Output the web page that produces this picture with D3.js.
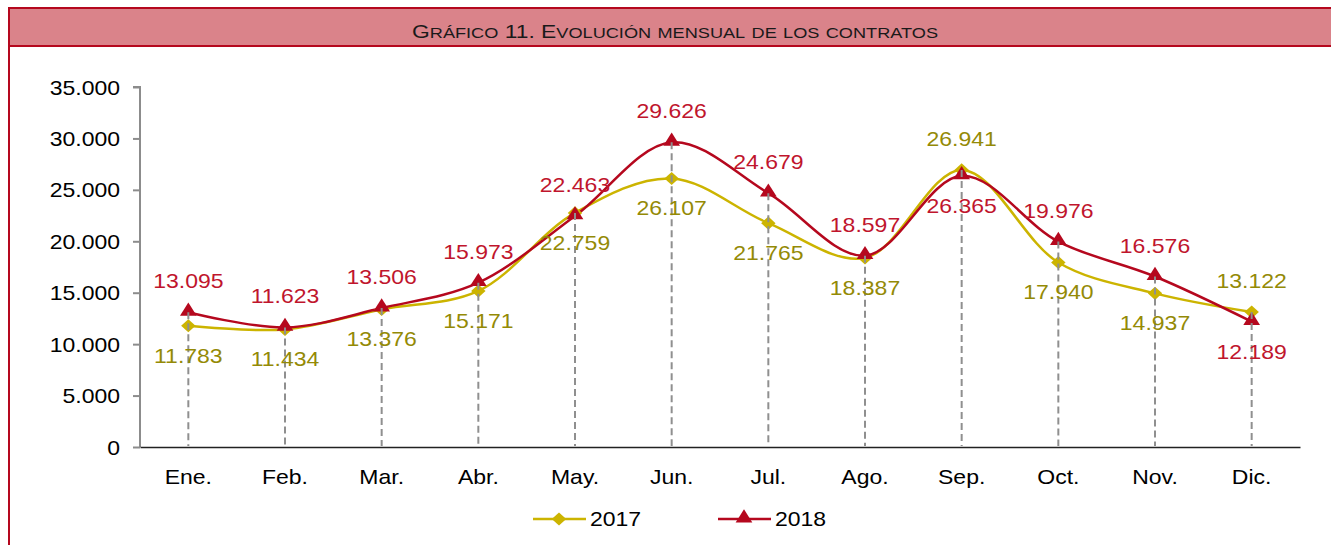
<!DOCTYPE html>
<html lang="es">
  <head>
    <meta charset="utf-8" />
    <title>Evolución mensual de los contratos</title>
    <script src="https://d3js.org/d3.v7.min.js"></script>
    <style>
      body {
        margin: 0;
        background: #fff;
        font-family: "Liberation Sans", Arial, sans-serif;
      }
      svg {
        display: block;
      }
      .tick text {
        font-size: 20px;
        fill: #000;
      }
      .label {
        font-size: 20px;
        text-anchor: middle;
      }
    </style>
  </head>
  <body>
    <svg id="chart" width="1331" height="545"></svg>

    <script>
      // data
      const months = ["Ene.", "Feb.", "Mar.", "Abr.", "May.", "Jun.", "Jul.", "Ago.", "Sep.", "Oct.", "Nov.", "Dic."];
      const values2017 = [11783, 11434, 13376, 15171, 22759, 26107, 21765, 18387, 26941, 17940, 14937, 13122];
      const values2018 = [13095, 11623, 13506, 15973, 22463, 29626, 24679, 18597, 26365, 19976, 16576, 12189];
      const yTicks = [0, 5000, 10000, 15000, 20000, 25000, 30000, 35000];
      const titleText = "Gráfico 11. Evolución mensual de los contratos";

      const svg = d3.select("#chart");
      const W = 1331;
      const SX = 1.15; // the original text is a bit wider than Arial

      // stretch text horizontally around its own anchor point
      function stretch(sel, k = SX) {
        sel.each(function () {
          const t = d3.select(this);
          const tx = +t.attr("x") || 0;
          const ty = +t.attr("y") || 0;
          t.attr("x", 0).attr("y", 0)
            .attr("transform", `translate(${tx},${ty}) scale(${k},1)`);
        });
      }

      // ---- title band + frame
      svg.append("rect")
        .attr("x", 9).attr("y", 8)
        .attr("width", W).attr("height", 38)
        .attr("fill", "#da838a")
        .attr("stroke", "#b5081e")
        .attr("stroke-width", 2);
      svg.append("line")
        .attr("x1", 9).attr("x2", 9)
        .attr("y1", 46).attr("y2", 545)
        .attr("stroke", "#b5081e")
        .attr("stroke-width", 2);

      // manual small caps: capitals, digits and punctuation large, the rest small
      const chunks = [];
      for (const ch of titleText) {
        const big = ch === ch.toUpperCase();
        const last = chunks[chunks.length - 1];
        if (last && last.big === big) last.s += ch;
        else chunks.push({ big, s: ch });
      }
      const title = svg.append("text")
        .attr("x", 675).attr("y", 38)
        .attr("text-anchor", "middle")
        .style("fill", "#1a1a1a");
      title.selectAll("tspan")
        .data(chunks)
        .enter()
        .append("tspan")
        .style("font-size", (d) => (d.big ? "18px" : "14.3px"))
        .text((d) => d.s.toUpperCase());
      stretch(title, 1.27);

      // ---- scales
      const x = d3.scaleBand().domain(months).range([140, 1300]);
      const y = d3.scaleLinear().domain([0, 35000]).range([447, 87]);
      const fmt = (v) => d3.format(",")(v).replace(/,/g, ".");
      const cx = (i) => x(months[i]) + x.bandwidth() / 2;

      // ---- axes
      const yAxis = svg.append("g")
        .attr("transform", "translate(140,0)")
        .call(d3.axisLeft(y).tickValues(yTicks).tickFormat(fmt).tickSize(7).tickPadding(13));
      yAxis.selectAll("line, path").attr("stroke", "#8c8c8c").attr("stroke-width", 2);
      yAxis.select(".domain").attr("d", "M-7,87H0V447");
      yAxis.selectAll(".tick text").attr("y", 7).attr("dy", null).call(stretch);

      const xAxis = svg.append("g")
        .attr("transform", "translate(0,447)")
        .call(d3.axisBottom(x).tickSize(0).tickPadding(20));
      xAxis.select(".domain").attr("stroke", "#222").attr("stroke-width", 1.5);
      xAxis.selectAll(".tick text").attr("y", 37).attr("dy", null).call(stretch);

      // ---- lines
      const series = [
        { name: "2017", values: values2017, line: "#ccb400", text: "#948a06", marker: "diamond" },
        { name: "2018", values: values2018, line: "#b5081e", text: "#c0152d", marker: "triangle" }
      ];

      const lineGen = d3.line()
        .x((d, i) => cx(i))
        .y((d) => y(d))
        .curve(d3.curveCatmullRom.alpha(0.5));

      series.forEach((s) => {
        svg.append("path")
          .datum(s.values)
          .attr("fill", "none")
          .attr("stroke", s.line)
          .attr("stroke-width", 2.5)
          .attr("d", lineGen);
      });

      const diamond = d3.symbol().type(d3.symbolDiamond2).size(110);
      const triangle = d3.symbol().type(d3.symbolTriangle).size(100);

      series.forEach((s) => {
        svg.selectAll(null)
          .data(s.values)
          .enter()
          .append("path")
          .attr("d", s.marker === "diamond" ? diamond : triangle)
          .attr("transform", (d, i) => `translate(${cx(i)},${y(d) - (s.marker === "triangle" ? 1 : 0)}) scale(1.1,1)`)
          .attr("fill", s.line);
      });

      // ---- drop lines
      svg.selectAll("line.drop")
        .data(months)
        .enter()
        .append("line")
        .attr("class", "drop")
        .attr("x1", (d, i) => cx(i))
        .attr("x2", (d, i) => cx(i))
        .attr("y1", (d, i) => y(Math.max(values2017[i], values2018[i])))
        .attr("y2", 446)
        .attr("stroke", "#8f8f8f")
        .attr("stroke-width", 2)
        .attr("stroke-dasharray", "7,4");

      // ---- data labels (2018 above, 2017 below, swapped in Sep. and Dic.)
      const swapped = ["Sep.", "Dic."];
      series.forEach((s) => {
        svg.selectAll(null)
          .data(s.values)
          .enter()
          .append("text")
          .attr("class", "label")
          .attr("x", (d, i) => cx(i))
          .attr("y", (d, i) => {
            let above = s.name === "2018";
            if (swapped.includes(months[i])) above = !above;
            return above ? y(d) - 24 : y(d) + 37;
          })
          .style("fill", s.text)
          .text(fmt)
          .call(stretch);
      });

      // ---- legend
      const legend = svg.append("g").attr("transform", "translate(0,519)");
      const legendItems = [
        { s: series[0], x0: 533 },
        { s: series[1], x0: 718 }
      ];
      legendItems.forEach(({ s, x0 }) => {
        legend.append("line")
          .attr("x1", x0).attr("x2", x0 + 53)
          .attr("y1", 0).attr("y2", 0)
          .attr("stroke", s.line)
          .attr("stroke-width", 2.5);
        legend.append("path")
          .attr("d", s.marker === "diamond" ? diamond : triangle)
          .attr("transform", `translate(${x0 + 26},${s.marker === "triangle" ? -1 : 0}) scale(1.1,1)`)
          .attr("fill", s.line);
        legend.append("text")
          .attr("x", x0 + 57).attr("y", 7)
          .style("font-size", "20px")
          .style("fill", "#000")
          .text(s.name)
          .call(stretch);
      });
    </script>
  </body>
</html>
